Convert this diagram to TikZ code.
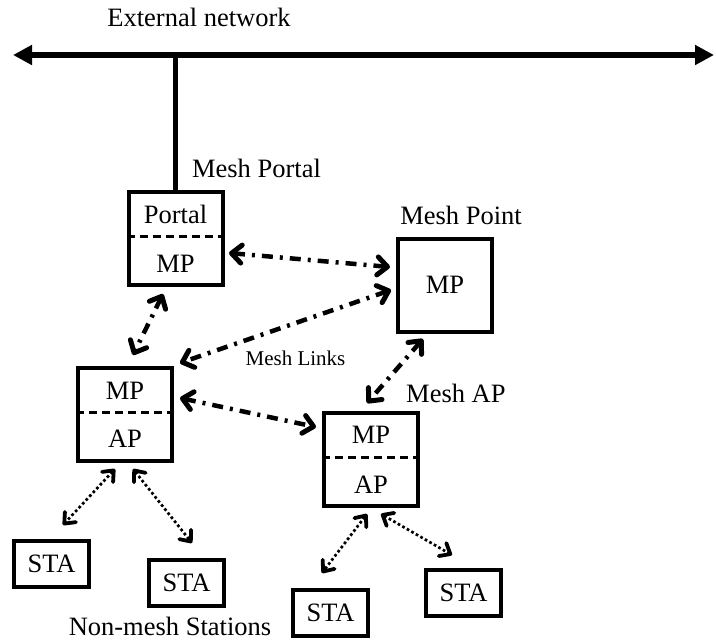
\documentclass[tikz,border=0pt]{standalone}
\usepackage{fontspec}
\setmainfont{Liberation Serif}
\usetikzlibrary{arrows.meta,calc}
\newcommand\lblfont{\fontsize{26.5pt}{30pt}\selectfont}
\newcommand\linkfont{\fontsize{21pt}{24pt}\selectfont}

\begin{document}
\begin{tikzpicture}[x=1pt,y=-1pt,
  box/.style={draw, line width=4pt, rectangle, inner sep=0pt,
    minimum width=94pt, minimum height=93pt},
  stabox/.style={draw, line width=4pt, rectangle, inner sep=0pt,
    minimum width=75pt, minimum height=46pt, font=\lblfont},
  divider/.style={line width=3pt, dash pattern=on 8pt off 5pt},
  boxtext/.style={anchor=base, inner sep=0pt, font=\lblfont},
  caption/.style={anchor=base, inner sep=0pt, font=\lblfont},
  extline/.style={line width=6pt, >={Triangle[length=19pt,width=19pt]}, <->},
  uplink/.style={line width=5.5pt},
  meshlink/.style={line width=4.5pt, dash pattern=on 11pt off 7pt on 3pt off 7pt,
    >={Straight Barb[length=10pt,width=18pt,line width=5pt,round]}, <->},
  stalink/.style={line width=2.7pt, dash pattern=on 2.7pt off 2.5pt,
    >={Straight Barb[length=9pt,width=15pt,line width=3.8pt,round]}, <->},
]
\useasboundingbox (0,0) rectangle (716,642);

% external network backbone
\coordinate (extL) at (13,55);
\coordinate (extR) at (714,55);
\draw[extline] (extL) -- (extR);
\node[caption] (extLbl) at (199,27) {External network};

% mesh nodes
\node[box] (portal) at (175.5,238) {};
\node[box] (mpt) at (445,285.5) {};
\node[box] (mapL) at (125,414) {};
\node[box] (mapR) at (371,459.5) {};

\draw[divider] ([yshift=2pt]portal.west) -- ([yshift=2pt]portal.east);
\draw[divider] ([yshift=2pt]mapL.west) -- ([yshift=2pt]mapL.east);
\draw[divider] ([yshift=2pt]mapR.west) -- ([yshift=2pt]mapR.east);

\node[boxtext] (portalTop) at (175.5,223) {Portal};
\node[boxtext] (portalMP) at (175.5,272) {MP};
\node[boxtext] (mptMP) at (445,293) {MP};
\node[boxtext] (mapLMP) at (125,399) {MP};
\node[boxtext] (mapLAP) at (125,447) {AP};
\node[boxtext] (mapRMP) at (371,443) {MP};
\node[boxtext] (mapRAP) at (371,493) {AP};

% portal uplink
\draw[uplink] (portal.north) -- (portal.north |- extL);

% stations
\node[stabox] (sta1) at (51.5,564) {STA};
\node[stabox] (sta2) at (186.5,582.5) {STA};
\node[stabox] (sta3) at (330.5,612.5) {STA};
\node[stabox] (sta4) at (463.5,592.5) {STA};

% captions
\node[caption] (portalLbl) at (256.5,177) {Mesh Portal};
\node[caption] (mptLbl) at (461,224) {Mesh Point};
\node[caption, anchor=base west] (apLbl) at (406,402) {Mesh AP};
\node[caption] (staLbl) at (170,635) {Non-mesh Stations};
\node[caption, font=\linkfont] (linkLbl) at (295.5,365) {Mesh Links};

% mesh links
\draw[meshlink] ([shift={(4.5,15)}]portal.east) -- ([shift={(-6,-18.5)}]mpt.west);
\draw[meshlink] ([shift={(-12.5,7.5)}]portal.south) -- ([shift={(8,-10.5)}]mapL.north);
\draw[meshlink] ([shift={(-5,4.5)}]mpt.west) -- ([shift={(6,-2.5)}]mapL.north east);
\draw[meshlink] ([shift={(6,-16)}]mapL.east) -- ([shift={(-6,-32.5)}]mapR.west);
\draw[meshlink] ([shift={(-22,5)}]mpt.south) -- ([shift={(-4,-8)}]mapR.north);

% station links
\draw[stalink] ([shift={(-10,6.5)}]mapL.south) -- ([shift={(11.5,-14)}]sta1.north);
\draw[stalink] ([shift={(8,6.5)}]mapL.south) -- ([shift={(5.5,-14.5)}]sta2.north);
\draw[stalink] ([shift={(-4,6)}]mapR.south) -- ([shift={(-8.5,-14.5)}]sta3.north);
\draw[stalink] ([shift={(10,6)}]mapR.south) -- ([shift={(-11.5,-12.5)}]sta4.north);
\end{tikzpicture}
\end{document}
